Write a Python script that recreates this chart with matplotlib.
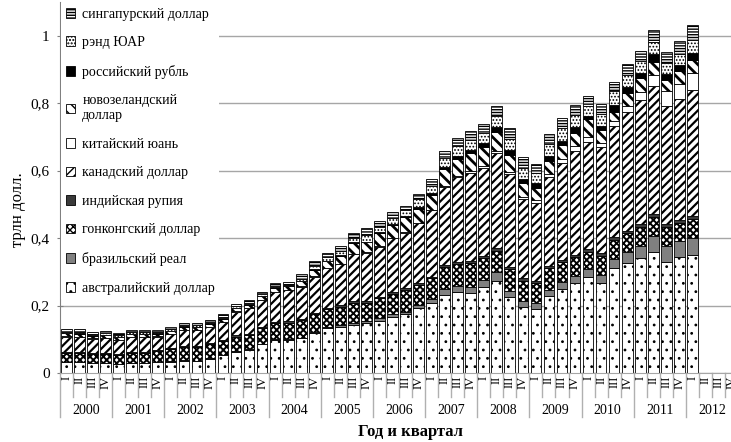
import numpy as np
import matplotlib.pyplot as plt

plt.rcParams['font.family'] = ['Liberation Serif', 'DejaVu Serif']

years = ['2000', '2001', '2002', '2003', '2004', '2005', '2006',
         '2007', '2008', '2009', '2010', '2011', '2012']
quarters = ['I', 'II', 'III', 'IV']

currencies = ['австралийский доллар', 'бразильский реал', 'гонконгский доллар',
              'индийская рупия', 'канадский доллар', 'китайский юань',
              'новозеландский\nдоллар', 'российский рубль', 'рэнд ЮАР',
              'сингапурский доллар']

# trillion USD, 2000 Q1 .. 2012 Q1
aud = [.032, .032, .029, .029, .026, .029, .029, .032, .034, .037, .036, .042, .052,
       .063, .068, .085, .098, .098, .103, .120, .133, .137, .142, .147, .154, .167,
       .175, .192, .207, .231, .239, .236, .254, .273, .225, .195, .189, .227,
       .248, .266, .284, .266, .311, .326, .340, .358, .330, .343, .350]
brl = [.001, .001, .001, .001, .001, .001, .001, .001, .001, .001, .001, .001, .002,
       .002, .002, .002, .002, .002, .002, .003, .004, .004, .005, .007, .008, .007,
       .007, .010, .012, .017, .019, .020, .022, .025, .019, .017, .018, .019,
       .021, .022, .024, .025, .027, .032, .038, .049, .047, .047, .050]
hkd = [.025, .025, .025, .026, .026, .028, .030, .031, .035, .038, .041, .042, .041,
       .043, .043, .046, .047, .049, .052, .052, .052, .056, .062, .055, .060, .060,
       .064, .059, .062, .067, .065, .070, .064, .065, .064, .062, .059, .065,
       .060, .055, .052, .057, .057, .056, .056, .057, .057, .056, .058]
inr = [.003, .003, .003, .003, .003, .003, .003, .003, .003, .003, .003, .003, .003,
       .004, .004, .004, .004, .004, .004, .004, .004, .004, .004, .004, .004, .005,
       .005, .005, .005, .006, .006, .006, .007, .007, .007, .007, .007, .007,
       .006, .007, .007, .007, .008, .008, .008, .008, .008, .008, .008]
cad = [.047, .046, .044, .045, .042, .046, .044, .041, .043, .048, .046, .048, .052,
       .070, .075, .078, .088, .092, .095, .107, .118, .122, .140, .144, .149, .161,
       .165, .178, .196, .230, .252, .262, .260, .282, .276, .234, .231, .263,
       .287, .307, .319, .316, .330, .353, .368, .380, .350, .358, .374]
cny = [.001, .001, .001, .001, .001, .001, .001, .001, .001, .001, .001, .001, .001,
       .001, .001, .001, .001, .001, .001, .001, .001, .001, .001, .001, .001, .001,
       .002, .002, .002, .003, .004, .005, .007, .007, .006, .008, .009, .010,
       .012, .015, .015, .010, .013, .017, .022, .032, .043, .045, .049]
nzd = [.009, .009, .008, .008, .008, .008, .008, .008, .008, .009, .008, .009, .010,
       .010, .010, .012, .013, .011, .015, .018, .019, .023, .031, .029, .039, .038,
       .044, .040, .044, .050, .049, .053, .056, .057, .050, .040, .035, .039,
       .043, .039, .052, .040, .029, .038, .042, .037, .034, .037, .038]
rub = [.001, .001, .001, .001, .001, .001, .001, .001, .001, .001, .001, .001, .001,
       .001, .001, .001, .001, .001, .001, .002, .002, .002, .002, .002, .002, .002,
       .004, .005, .005, .006, .010, .010, .012, .013, .015, .012, .015, .014,
       .012, .018, .008, .012, .020, .017, .015, .025, .017, .020, .023]
zar = [.004, .004, .004, .004, .004, .004, .004, .003, .004, .004, .004, .004, .005,
       .004, .004, .005, .005, .004, .007, .011, .010, .014, .013, .020, .017, .018,
       .016, .024, .022, .027, .028, .030, .029, .033, .031, .032, .030, .036,
       .037, .037, .031, .035, .040, .037, .035, .034, .033, .033, .038]
sgd = [.007, .007, .006, .007, .006, .007, .007, .007, .007, .007, .007, .007, .008,
       .007, .007, .007, .007, .007, .013, .014, .014, .014, .015, .020, .016, .019,
       .014, .016, .020, .022, .024, .026, .028, .030, .033, .032, .026, .028,
       .030, .029, .030, .029, .029, .032, .032, .038, .034, .036, .045]

series = [aud, brl, hkd, inr, cad, cny, nzd, rub, zar, sgd]
faces = ['white', '#808080', 'white', '#3a3a3a', 'white', 'white', 'white',
         'black', 'white', 'white']
hatches = ['..', None, 'xxxxx', None, '////', None, '\\\\\\', None, '.....', '------']
hatch_lw = [0.8, 0.8, 1.4, 0.8, 1.6, 0.8, 2.0, 0.8, 0.8, 1.0]

n_slots = len(years) * 4
x = np.arange(len(aud))

fig = plt.figure(figsize=(7.31, 4.42), dpi=100)
ax = fig.add_axes([60 / 731, 69 / 442, 678 / 731, 371 / 442])

bottom = np.zeros(len(aud))
handles = []
for vals, fc, h, hlw, name in zip(series, faces, hatches, hatch_lw, currencies):
    plt.rcParams['hatch.linewidth'] = hlw
    b = ax.bar(x, vals, width=0.82, bottom=bottom, color=fc, edgecolor='black',
               hatch=h, linewidth=0.6, label=name)
    for p in b.patches:
        if hasattr(p, 'set_hatch_linewidth'):
            p.set_hatch_linewidth(hlw)
    handles.append(b)
    bottom += np.array(vals)

ax.set_xlim(-0.5, n_slots - 0.5)
ax.set_ylim(0, 1.1)
ax.set_yticks([0, 0.2, 0.4, 0.6, 0.8, 1.0])
ax.set_yticklabels(['0', '0,2', '0,4', '0,6', '0,8', '1'], fontsize=11)
ax.tick_params(axis='y', direction='inout', length=5, color='#808080', pad=5)
ax.set_xticks([])
ax.yaxis.grid(True, color='#a6a6a6', linewidth=1)
ax.set_axisbelow(True)
for s in ['top', 'right']:
    ax.spines[s].set_visible(False)
ax.spines['left'].set_color('#808080')
ax.spines['bottom'].set_color('#a6a6a6')

# two-level category axis
tr = ax.get_xaxis_transform()
for i in range(n_slots):
    ax.text(i, -0.008, quarters[i % 4], transform=tr, rotation=90,
            ha='center', va='top', fontsize=9)
for i in range(n_slots + 1):
    low = -0.119 if i % 4 == 0 else -0.065
    ax.plot([i - 0.5, i - 0.5], [0, low], transform=tr, color='#b0b0b0',
            linewidth=1, clip_on=False)
for k, yr in enumerate(years):
    ax.text(4 * k + 1.5, -0.1, yr, transform=tr, ha='center', va='center',
            fontsize=10)

fig.text(411 / 731, 1 - 432 / 442, 'Год и квартал', ha='center', va='center',
         fontsize=12, fontweight='bold')
fig.text(18 / 731, 1 - 210 / 442, 'трлн долл.', rotation=90, ha='center',
         va='center', fontsize=12)

leg = ax.legend(handles[::-1], currencies[::-1], loc='upper left',
                bbox_to_anchor=(0.0, 1.0), frameon=True, facecolor='white',
                edgecolor='none', framealpha=1, fancybox=False, fontsize=10,
                handlelength=0.7, handleheight=0.7, handletextpad=0.5,
                labelspacing=1.12, borderpad=0.3, borderaxespad=0.1)

plt.savefig('out.png', dpi=100)
